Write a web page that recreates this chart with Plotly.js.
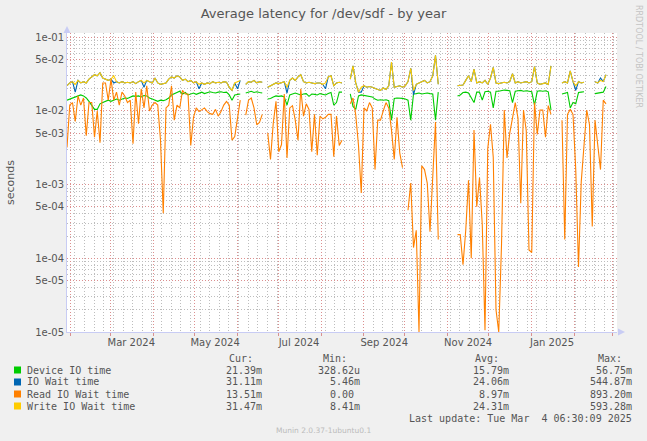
<!DOCTYPE html>
<html>
<head>
<meta charset="utf-8">
<script src="https://cdn.plot.ly/plotly-3.0.1.min.js"></script>
<style>
    html, body { margin: 0; padding: 0; background: #f0f0f0; }
    #plot { width: 647px; height: 441px; }
</style>
</head>
<body>
<div id="plot"></div>
<script>
// one sample every 2 days, starting 400 days before the last update
const firstSample = Date.UTC(2024, 0, 29, 6, 30);
const stepDays = 2;
const rangeStart = '2024-01-29 06:30';
const rangeEnd = '2025-03-04 06:30';

const deviceIO = [
    0.014, 0.0145, 0.015, 0.0155, 0.016, 0.0165, 0.016, 0.015, 0.0135, 0.012,
    0.0105, 0.0105, 0.0125, 0.013, 0.0135, 0.014, 0.0135, 0.014, 0.0145, 0.014,
    0.0145, 0.015, 0.0148, 0.0155, 0.016, 0.0158, 0.016, 0.0155, 0.0162, 0.016,
    0.015, 0.0145, 0.014, 0.0135, 0.014, 0.0138, 0.0142, 0.015, 0.0165, 0.0172,
    0.018, 0.0185, 0.017, 0.0178, 0.0165, 0.017, 0.0175, 0.0168, 0.0175, 0.018,
    0.0172, 0.0178, 0.0182, 0.0178, 0.0175, 0.018, 0.0182, 0.0178, 0.018, 0.0165,
    0.014, 0.0165, 0.0168, 0.017, null, 0.0175, 0.018, 0.0185, 0.0178, 0.0182,
    0.0178, 0.0175, null, 0.0145, 0.0148, 0.0155, 0.016, 0.0158, 0.016, 0.0155,
    0.012, 0.0165, 0.0172, 0.0175, 0.017, 0.0165, 0.017, 0.0172, 0.0158, 0.017,
    0.0168, 0.0165, 0.0172, 0.017, 0.0165, 0.0172, 0.0178, 0.012, 0.013, 0.018,
    0.018, null, null, 0.017, 0.0115, 0.0105, 0.016, 0.0165, 0.0162, 0.016,
    0.0158, 0.0155, 0.0145, 0.014, 0.0142, 0.014, 0.0142, 0.0138, 0.0075, 0.0148,
    0.015, 0.015, 0.0148, 0.0145, 0.014, 0.0075, 0.017, 0.0172, 0.0175, 0.017,
    0.0172, 0.0175, 0.0172, 0.017, 0.0075, 0.018, null, null, null, null,
    null, null, 0.016, 0.0165, 0.0178, 0.018, 0.0175, 0.015, 0.013, 0.018,
    0.018, 0.014, 0.0182, 0.0185, 0.018, 0.011, 0.0185, 0.0185, 0.019, 0.0192,
    0.019, 0.0188, 0.013, 0.0185, 0.0188, 0.019, 0.0185, 0.0188, 0.0185, 0.0182,
    0.012, 0.0185, 0.0188, 0.0185, 0.0188, 0.0182, 0.0103, null, null, null,
    0.017, 0.0175, 0.0178, 0.011, 0.013, 0.0125, 0.0178, 0.018, 0.0182, null,
    null, null, 0.0172, 0.0175, 0.0178, 0.018, 0.0214
];

const ioWait = [
    0.022, 0.024, 0.025, 0.018, 0.026, 0.024, 0.025, 0.024, 0.027, 0.029,
    0.031, 0.03, 0.033, 0.028, 0.027, 0.026, 0.027, 0.024, 0.025, 0.024,
    0.025, 0.024, 0.0245, 0.024, 0.025, 0.0235, 0.025, 0.026, 0.021, 0.026,
    0.025, 0.024, 0.028, 0.024, 0.023, 0.0235, 0.024, 0.027, 0.029, 0.028,
    0.03, 0.029, 0.026, 0.027, 0.025, 0.026, 0.024, 0.025, 0.02, 0.024,
    0.023, 0.024, 0.0235, 0.025, 0.024, 0.0245, 0.024, 0.025, 0.0245, 0.021,
    0.019, 0.024, 0.02, 0.026, null, 0.023, 0.025, 0.0245, 0.026, 0.024,
    0.025, 0.0245, null, 0.021, 0.022, 0.0235, 0.024, 0.0235, 0.024, 0.025,
    0.0175, 0.026, 0.028, 0.026, 0.029, 0.031, 0.025, 0.024, 0.0245, 0.024,
    0.0235, 0.024, 0.024, 0.023, 0.02, 0.029, 0.03, 0.022, 0.024, 0.0245,
    0.024, null, null, 0.027, 0.041, 0.024, 0.018, 0.018, 0.022, 0.021,
    0.0215, 0.021, 0.02, 0.0195, 0.019, 0.0205, 0.0195, 0.022, 0.046, 0.021,
    0.0215, 0.022, 0.021, 0.022, 0.025, 0.038, 0.0165, 0.023, 0.024, 0.025,
    0.026, 0.024, 0.025, 0.03, 0.057, 0.023, null, null, null, null,
    null, null, 0.022, 0.022, 0.0225, 0.026, 0.03, 0.025, 0.037, 0.024,
    0.025, 0.024, 0.026, 0.023, 0.028, 0.039, 0.024, 0.0235, 0.024, 0.0245,
    0.024, 0.025, 0.032, 0.024, 0.025, 0.024, 0.0245, 0.025, 0.024, 0.025,
    0.04, 0.024, 0.023, 0.0235, 0.024, 0.023, 0.041, null, null, null,
    0.024, 0.025, 0.024, 0.035, 0.025, 0.019, 0.025, 0.024, 0.0245, null,
    null, null, 0.025, 0.024, 0.028, 0.025, 0.031
];

const readWait = [
    0.0032, 0.012, 0.013, 0.0072, 0.016, 0.012, 0.015, 0.0046, 0.013, 0.013,
    0.0044, 0.01, 0.0037, 0.024, 0.024, 0.014, 0.027, 0.014, 0.018, 0.012,
    0.018, 0.016, 0.013, 0.014, 0.0036, 0.018, 0.0067, 0.02, 0.011, 0.022,
    0.01, 0.012, 0.013, 0.012, 0.004, 0.00041, 0.011, 0.012, 0.022, 0.0075,
    0.012, 0.011, 0.019, 0.017, 0.017, 0.0034, 0.0082, 0.011, 0.0098, 0.0105,
    0.011, 0.0098, 0.0092, 0.009, 0.0105, 0.0085, 0.0098, 0.012, 0.0135, 0.012,
    0.004, 0.0045, 0.0078, 0.014, null, 0.0088, 0.014, 0.015, 0.011, 0.0065,
    0.007, 0.009, null, 0.005, 0.0022, 0.0068, 0.0135, 0.0028, 0.0035, 0.017,
    0.0023, 0.011, 0.0118, 0.0075, 0.004, 0.02, 0.0085, 0.0125, 0.0105, 0.0028,
    0.009, 0.0025, 0.0085, 0.0078, 0.0082, 0.009, 0.009, 0.0024, 0.0085, 0.0034,
    0.004, null, null, 0.0125, 0.015, 0.0088, 0.0034, 0.00077, 0.011, 0.01,
    0.013, 0.011, 0.0016, 0.0075, 0.0075, 0.01, 0.013, 0.011, 0.0055, 0.0022,
    0.0082, 0.0027, 0.0017, null, 0.00045, 0.00105, 0.00014, 0.00024, 0.00001, 0.0018,
    0.0016, 0.00105, 0.00023, 0.0016, 0.0071, 0.00018, null, null, null, null,
    null, null, 0.00021, 0.00021, 0.000082, 0.00024, 0.00115, 0.0001, 0.0055, 0.0005,
    0.00125, 0.00029, 0.0000106, 0.0031, 0.0066, 0.00235, 0.00002, 0.00001, 0.00015, 0.0103,
    0.0023, 0.005, 0.008, 0.013, 0.008, 0.00056, 0.0103, 0.0054, 0.00013, 0.00012,
    0.013, 0.0048, 0.0103, 0.0103, 0.0044, 0.0118, 0.009, null, null, null,
    0.0075, 0.00018, 0.009, 0.0105, 0.009, 0.0016, 0.000076, 0.0011, 0.0034, 0.0103,
    0.0065, 0.00027, 0.0075, 0.0034, 0.0016, 0.014, 0.0125
];

const writeWait = [
    0.022, 0.024, 0.025, 0.023, 0.026, 0.024, 0.025, 0.024, 0.027, 0.029,
    0.031, 0.03, 0.033, 0.028, 0.027, 0.026, 0.027, 0.03, 0.025, 0.024,
    0.025, 0.024, 0.0245, 0.024, 0.025, 0.0235, 0.025, 0.026, 0.024, 0.026,
    0.025, 0.024, 0.028, 0.024, 0.023, 0.0235, 0.024, 0.027, 0.029, 0.028,
    0.03, 0.029, 0.026, 0.027, 0.025, 0.026, 0.024, 0.025, 0.023, 0.024,
    0.023, 0.024, 0.0235, 0.025, 0.024, 0.0245, 0.024, 0.025, 0.0245, 0.021,
    0.019, 0.024, 0.025, 0.026, null, 0.023, 0.025, 0.0245, 0.026, 0.024,
    0.025, 0.0245, null, 0.021, 0.022, 0.0235, 0.024, 0.0235, 0.024, 0.025,
    0.021, 0.026, 0.028, 0.026, 0.029, 0.031, 0.025, 0.024, 0.0245, 0.024,
    0.0235, 0.024, 0.024, 0.023, 0.024, 0.029, 0.03, 0.022, 0.024, 0.0245,
    0.024, null, null, 0.027, 0.041, 0.024, 0.018, 0.021, 0.022, 0.021,
    0.0215, 0.021, 0.02, 0.0195, 0.019, 0.0205, 0.0195, 0.022, 0.046, 0.021,
    0.0215, 0.022, 0.021, 0.022, 0.025, 0.038, 0.019, 0.023, 0.024, 0.025,
    0.026, 0.024, 0.025, 0.03, 0.057, 0.023, null, null, null, null,
    null, null, 0.022, 0.022, 0.0225, 0.026, 0.03, 0.025, 0.037, 0.024,
    0.025, 0.024, 0.026, 0.023, 0.028, 0.039, 0.024, 0.0235, 0.024, 0.0245,
    0.024, 0.025, 0.032, 0.024, 0.025, 0.024, 0.0245, 0.025, 0.024, 0.025,
    0.04, 0.024, 0.023, 0.0235, 0.024, 0.023, 0.041, null, null, null,
    0.024, 0.025, 0.024, 0.035, 0.025, 0.022, 0.025, 0.024, 0.0245, null,
    null, null, 0.025, 0.024, 0.026, 0.025, 0.031
];

const monthStarts = [
    '2024-02-01', '2024-03-01', '2024-04-01', '2024-05-01', '2024-06-01', '2024-07-01',
    '2024-08-01', '2024-09-01', '2024-10-01', '2024-11-01', '2024-12-01', '2025-01-01',
    '2025-02-01', '2025-03-01'
];
const monthLabelDates = ['2024-03-16', '2024-05-16', '2024-07-16', '2024-09-16', '2024-11-16', '2025-01-16'];
const monthLabels = ['Mar 2024', 'May 2024', 'Jul 2024', 'Sep 2024', 'Nov 2024', 'Jan 2025'];

const yTickVals = [1e-5, 5e-5, 1e-4, 5e-4, 1e-3, 5e-3, 1e-2, 5e-2, 1e-1];
const yTickText = ['1e-05', '5e-05', '1e-04', '5e-04', '1e-03', '5e-03', '1e-02', '5e-02', '1e-01'];

const seriesNames = ['Device IO time', 'IO Wait time', 'Read IO Wait time', 'Write IO Wait time'];
const seriesColors = ['#00cc00', '#0066b3', '#ff8000', '#ffcc00'];
const curValues = ['21.39m', '31.11m', '13.51m', '31.47m'];
const minValues = ['328.62u', '5.46m', '0.00\u00a0', '8.41m'];
const avgValues = ['15.79m', '24.06m', '8.97m', '24.31m'];
const maxValues = ['56.75m', '544.87m', '893.20m', '593.28m'];

// plot area in pixels: x 67..617, y 33..332
const PL = 67, PR = 617, PT = 33, PB = 332;
function px(x) { return (x - PL) / (PR - PL); }
function py(y) { return (PB - y) / (PB - PT); }

function sampleDates(n) {
    let out = [];
    for (let i = 0; i < n; i++) {
        let d = new Date(firstSample + i * stepDays * 86400000);
        out.push(d.toISOString().slice(0, 16).replace('T', ' '));
    }
    return out;
}

function weeklySundays() {
    let out = [];
    let t = Date.UTC(2024, 1, 4);
    let end = Date.UTC(2025, 2, 4);
    while (t < end) {
        out.push(new Date(t).toISOString().slice(0, 10));
        t += 7 * 86400000;
    }
    return out;
}

function minorLogVals() {
    let out = [];
    for (let e = -5; e <= -2; e++) {
        [2, 3, 4, 6, 7, 8, 9].forEach(function (k) { out.push(k * Math.pow(10, e)); });
    }
    return out;
}

const dates = sampleDates(deviceIO.length);
const series = [deviceIO, ioWait, readWait, writeWait];

let traces = series.map(function (vals, i) {
    return {
        x: dates,
        y: vals,
        type: 'scatter',
        mode: 'lines',
        name: seriesNames[i],
        line: { color: seriesColors[i], width: 1.1 },
        connectgaps: false,
        hoverinfo: 'skip'
    };
});
// empty trace so the month-label axis gets drawn
traces.push({ x: [], y: [], type: 'scatter', mode: 'lines', xaxis: 'x2', yaxis: 'y', hoverinfo: 'skip' });

const textColor = '#555555';
const majorGrid = '#dc8f8f';
const minorGrid = '#bdbdbd';
const axisColor = '#c8ccf4';
const dotted = '1px,2px';

let annotations = [];

function addText(text, x, y, opts) {
    annotations.push(Object.assign({
        text: text,
        xref: 'paper', yref: 'paper',
        x: px(x), y: py(y),
        xanchor: 'left', yanchor: 'middle',
        showarrow: false,
        borderpad: 0,
        font: { family: 'DejaVu Sans Mono', size: 10, color: textColor }
    }, opts || {}));
}

// legend table
addText('Cur:', 228, 358);
addText('Min:', 322, 358);
addText('Avg:', 474, 358);
addText('Max:', 597, 358);
let shapes = [];
seriesNames.forEach(function (name, i) {
    let rowY = 370 + i * 12;
    addText(name, 26, rowY);
    addText(curValues[i], 263, rowY, { xanchor: 'right' });
    addText(minValues[i], 361, rowY, { xanchor: 'right' });
    addText(avgValues[i], 510, rowY, { xanchor: 'right' });
    addText(maxValues[i], 633, rowY, { xanchor: 'right' });
    shapes.push({
        type: 'rect', xref: 'paper', yref: 'paper',
        x0: px(14), x1: px(21), y0: py(rowY + 3.5), y1: py(rowY - 3.5),
        fillcolor: seriesColors[i], line: { width: 0 }
    });
});
addText('Last update: Tue Mar\u00a0\u00a04 06:30:09 2025', 633, 418, { xanchor: 'right' });

addText('Munin 2.0.37-1ubuntu0.1', 323, 430, {
    xanchor: 'center',
    font: { family: 'DejaVu Sans', size: 7.5, color: '#bbbbbb' }
});
addText('seconds', 10, 183, {
    xanchor: 'center', textangle: -90,
    font: { family: 'DejaVu Sans', size: 11, color: textColor }
});
addText('RRDTOOL / TOBI OETIKER', 638, 56, {
    xanchor: 'center', textangle: 90,
    font: { family: 'DejaVu Sans', size: 8, color: '#c4c4c4' }
});

// axis arrows
function tri(a, b, c) {
    return 'M ' + px(a[0]) + ' ' + py(a[1]) + ' L ' + px(b[0]) + ' ' + py(b[1]) +
        ' L ' + px(c[0]) + ' ' + py(c[1]) + ' Z';
}
shapes.push({
    type: 'path', xref: 'paper', yref: 'paper',
    path: tri([63.5, 33], [67, 26], [70.5, 33]),
    fillcolor: axisColor, line: { width: 0 }
});
shapes.push({
    type: 'path', xref: 'paper', yref: 'paper',
    path: tri([618, 328.5], [625, 332], [618, 335.5]),
    fillcolor: axisColor, line: { width: 0 }
});

let layout = {
    width: 647,
    height: 441,
    margin: { l: PL, r: 647 - PR, t: PT, b: 441 - PB, pad: 0 },
    paper_bgcolor: '#f0f0f0',
    plot_bgcolor: '#ffffff',
    showlegend: false,
    title: {
        text: 'Average latency for /dev/sdf - by year',
        font: { family: 'DejaVu Sans', size: 13, color: textColor },
        x: 0.5, xref: 'container', xanchor: 'center',
        y: 1 - 13 / 441, yref: 'container', yanchor: 'middle'
    },
    xaxis: {
        type: 'date',
        range: [rangeStart, rangeEnd],
        tickmode: 'array',
        tickvals: monthStarts,
        showticklabels: false,
        ticks: 'outside', ticklen: 3, tickcolor: '#d89090',
        showgrid: true, gridcolor: majorGrid, griddash: dotted, gridwidth: 1,
        minor: {
            tickmode: 'array', tickvals: weeklySundays(),
            showgrid: true, gridcolor: minorGrid, griddash: dotted, gridwidth: 1,
            ticks: ''
        },
        showline: true, linecolor: axisColor, linewidth: 1,
        zeroline: false, fixedrange: true
    },
    xaxis2: {
        type: 'date',
        overlaying: 'x',
        anchor: 'y',
        side: 'bottom',
        range: [rangeStart, rangeEnd],
        tickmode: 'array',
        tickvals: monthLabelDates,
        ticktext: monthLabels,
        ticks: '',
        ticklabelstandoff: 3,
        showgrid: false, showline: false, zeroline: false,
        tickfont: { family: 'DejaVu Sans', size: 10, color: textColor }
    },
    yaxis: {
        type: 'log',
        range: [-5, -0.942],
        tickmode: 'array',
        tickvals: yTickVals,
        ticktext: yTickText,
        ticks: '',
        tickfont: { family: 'DejaVu Sans', size: 10, color: textColor },
        showgrid: true, gridcolor: majorGrid, griddash: dotted, gridwidth: 1,
        minor: {
            tickmode: 'array', tickvals: minorLogVals(),
            showgrid: true, gridcolor: minorGrid, griddash: dotted, gridwidth: 1,
            ticks: ''
        },
        showline: true, linecolor: axisColor, linewidth: 1,
        zeroline: false, fixedrange: true
    },
    annotations: annotations,
    shapes: shapes
};

Plotly.newPlot('plot', traces, layout, { displayModeBar: false, staticPlot: true });
</script>
</body>
</html>
